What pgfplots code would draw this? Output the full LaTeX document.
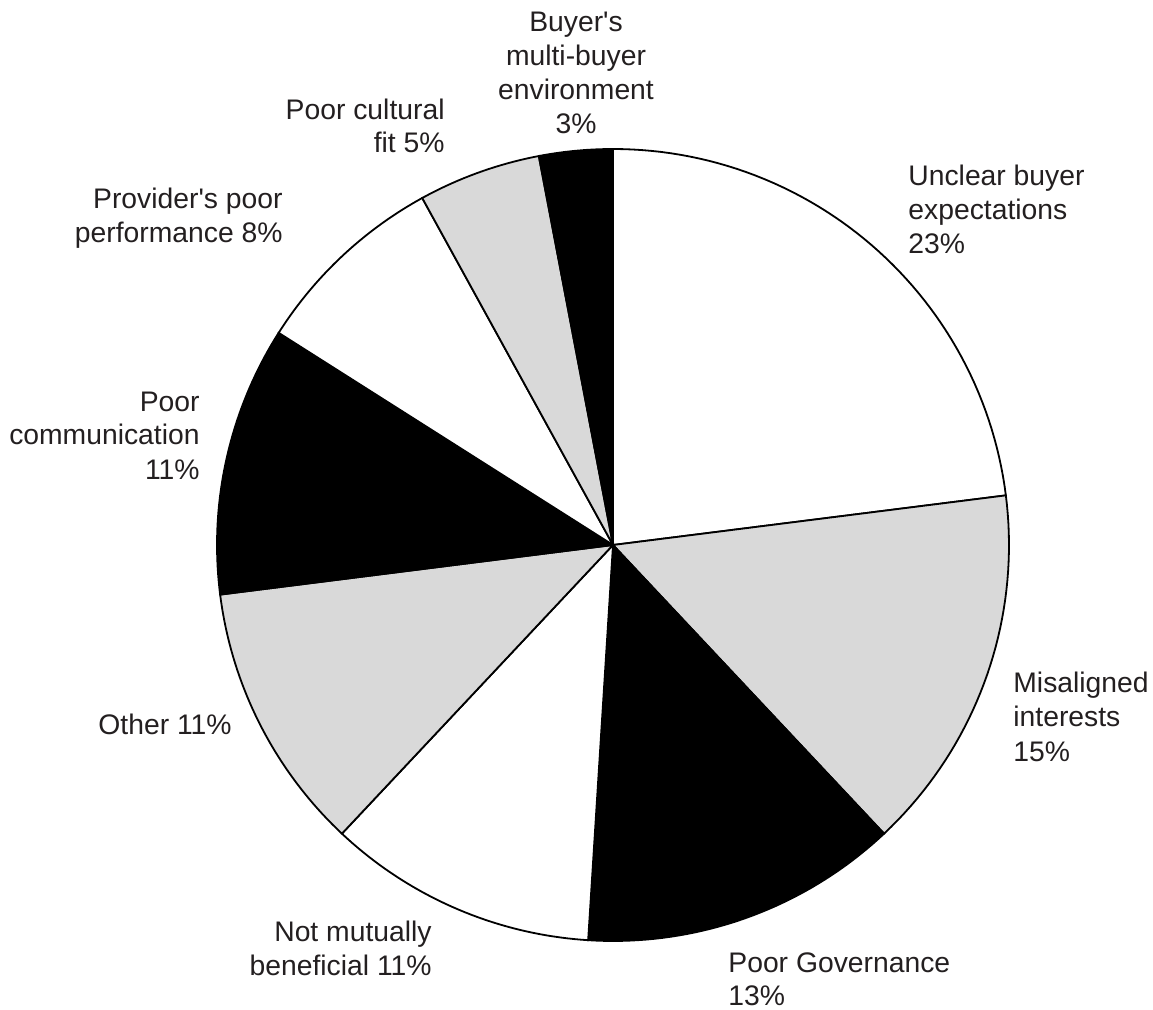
\documentclass[border=0pt]{standalone}
\usepackage{pgfplots}
\pgfplotsset{compat=1.18}
\usepackage{fontspec}
\setmainfont{Liberation Sans}[Ligatures=TeXOff]
\definecolor{txt}{HTML}{231F20}
\definecolor{lg}{HTML}{D9D9D9}
\tikzset{lbl/.style={font=\fontsize{14.15}{17}\selectfont, text=txt, inner sep=0pt}}
\begin{document}
\begin{tikzpicture}
\begin{axis}[
  width=576.5pt, height=505pt, scale only axis,
  xmin=0, xmax=1153, ymin=0, ymax=1010, y dir=reverse,
  hide axis, clip=false,
]
\path (axis cs:0,0) rectangle (axis cs:1153,1010);
% shares (%): 23, 15, 13, 11, 11, 11, 8, 5, 3  -> angle = cumulative*3.6, clockwise from top
\addplot[fill=white, draw=black, line width=0.9pt, domain=0:82.8, samples=60, variable=\t] ({613+396*sin(\t)}, {545-396*cos(\t)}) -- (axis cs:613,545) -- cycle;
\addplot[fill=lg, draw=black, line width=0.9pt, domain=82.8:136.8, samples=40, variable=\t] ({613+396*sin(\t)}, {545-396*cos(\t)}) -- (axis cs:613,545) -- cycle;
\addplot[fill=black, draw=black, line width=0.9pt, domain=136.8:183.6, samples=40, variable=\t] ({613+396*sin(\t)}, {545-396*cos(\t)}) -- (axis cs:613,545) -- cycle;
\addplot[fill=white, draw=black, line width=0.9pt, domain=183.6:223.2, samples=40, variable=\t] ({613+396*sin(\t)}, {545-396*cos(\t)}) -- (axis cs:613,545) -- cycle;
\addplot[fill=lg, draw=black, line width=0.9pt, domain=223.2:262.8, samples=40, variable=\t] ({613+396*sin(\t)}, {545-396*cos(\t)}) -- (axis cs:613,545) -- cycle;
\addplot[fill=black, draw=black, line width=0.9pt, domain=262.8:302.4, samples=40, variable=\t] ({613+396*sin(\t)}, {545-396*cos(\t)}) -- (axis cs:613,545) -- cycle;
\addplot[fill=white, draw=black, line width=0.9pt, domain=302.4:331.2, samples=30, variable=\t] ({613+396*sin(\t)}, {545-396*cos(\t)}) -- (axis cs:613,545) -- cycle;
\addplot[fill=lg, draw=black, line width=0.9pt, domain=331.2:349.2, samples=20, variable=\t] ({613+396*sin(\t)}, {545-396*cos(\t)}) -- (axis cs:613,545) -- cycle;
\addplot[fill=black, draw=black, line width=0.9pt, domain=349.2:360, samples=15, variable=\t] ({613+396*sin(\t)}, {545-396*cos(\t)}) -- (axis cs:613,545) -- cycle;
% labels
\node[lbl, anchor=base west] at (axis cs:908,186) {Unclear buyer};
\node[lbl, anchor=base west] at (axis cs:908,220) {expectations};
\node[lbl, anchor=base west] at (axis cs:908,254) {23\%};
\node[lbl, anchor=base west] at (axis cs:1013,693) {Misaligned};
\node[lbl, anchor=base west] at (axis cs:1013,727) {interests};
\node[lbl, anchor=base west] at (axis cs:1013,762) {15\%};
\node[lbl, anchor=base west] at (axis cs:728,972) {Poor Governance};
\node[lbl, anchor=base west] at (axis cs:728,1005) {13\%};
\node[lbl, anchor=base east] at (axis cs:432,942) {Not mutually};
\node[lbl, anchor=base east] at (axis cs:432,975) {beneficial 11\%};
\node[lbl, anchor=base east] at (axis cs:232,735) {Other 11\%};
\node[lbl, anchor=base east] at (axis cs:200,412) {Poor};
\node[lbl, anchor=base east] at (axis cs:200,445) {communication};
\node[lbl, anchor=base east] at (axis cs:200,480) {11\%};
\node[lbl, anchor=base east] at (axis cs:283,209) {Provider's poor};
\node[lbl, anchor=base east] at (axis cs:283,243) {performance 8\%};
\node[lbl, anchor=base east] at (axis cs:445,120) {Poor cultural};
\node[lbl, anchor=base east] at (axis cs:445,153) {fit 5\%};
\node[lbl, anchor=base] at (axis cs:576,32) {Buyer's};
\node[lbl, anchor=base] at (axis cs:576,66) {multi-buyer};
\node[lbl, anchor=base] at (axis cs:576,100) {environment};
\node[lbl, anchor=base] at (axis cs:576,134) {3\%};
\end{axis}
\end{tikzpicture}
\end{document}
